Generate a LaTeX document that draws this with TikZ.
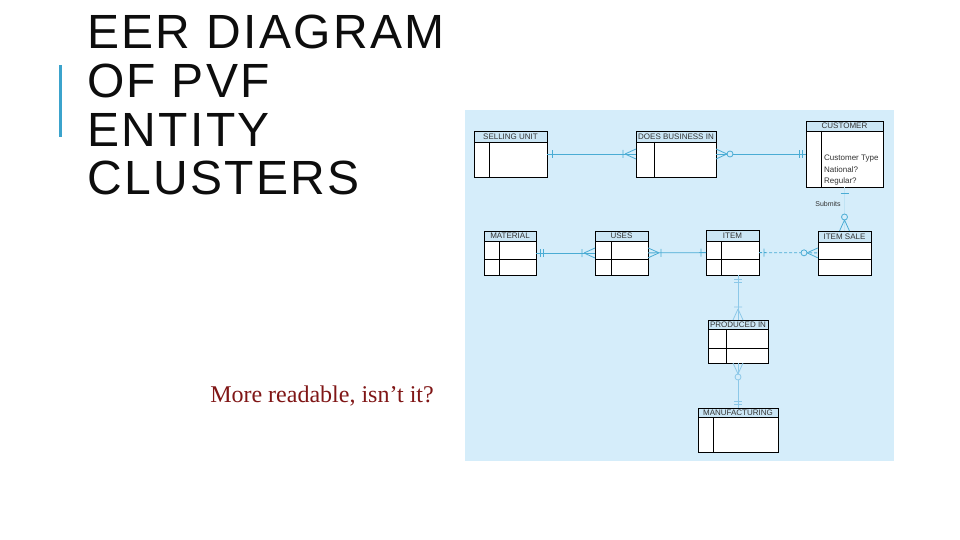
\documentclass[tikz,border=0pt]{standalone}
\usepackage{fontspec}
\setmainfont{Liberation Sans}
\newfontfamily\notefont{Liberation Serif}
\usetikzlibrary{calc, decorations.markings}

\definecolor{panel}{RGB}{213,237,250}
\definecolor{hdr}{RGB}{203,230,245}
\definecolor{lnk}{RGB}{74,172,212}
\definecolor{lnklight}{RGB}{140,200,232}
\definecolor{barblue}{RGB}{59,163,204}
\definecolor{notered}{RGB}{128,22,22}

% end marks: the box edge is at x=0, the line runs off to negative x
\newcommand{\mkone}{\draw[solid] (-5pt,-4pt) -- (-5pt,4pt);}
\newcommand{\mkonlyone}{\draw[solid] (-4pt,-4pt) -- (-4pt,4pt) (-7pt,-4pt) -- (-7pt,4pt);}
\newcommand{\mkonemany}{\draw[solid] (-11pt,0pt) -- (0pt,5pt) (-11pt,0pt) -- (0pt,-5pt) (-13pt,-4pt) -- (-13pt,4pt);}
\newcommand{\mkzeromany}{\draw[solid] (-11pt,0pt) -- (0pt,5pt) (-11pt,0pt) -- (0pt,-5pt);
  \draw[solid, fill=panel] (-14pt,0pt) circle (3pt);}

\tikzset{
  tailmark/.style={postaction={decorate, decoration={markings,
      mark=at position 0 with {\pgftransformxscale{-1}#1}}}},
  headmark/.style={postaction={decorate, decoration={markings,
      mark=at position 1 with {#1}}}},
  entity/.style={draw=black, fill=white, line width=0.9pt, inner sep=0pt, outer sep=0pt},
  hdrbox/.style={draw=black, fill=hdr, line width=0.9pt},
  inner/.style={draw=black, line width=0.9pt},
  headtext/.style={font=\fontsize{8}{9}\selectfont, text=black!80, inner sep=0pt},
  link/.style={color=lnk, line width=0.8pt},
}

\begin{document}
\begin{tikzpicture}[x=1pt, y=-1pt]
    \useasboundingbox[fill=white] (0,0) rectangle (960,540);

    % title side
    \fill[barblue] (59,65) rectangle (62,137);
    \node[anchor=north west, align=left, inner sep=0pt, text=black!95,
          font=\fontsize{48}{48.7}\selectfont\addfontfeatures{LetterSpace=5}] (title) at (87,15)
        {EER DIAGRAM\\OF PVF\\ENTITY\\CLUSTERS};
    \node[text=notered, inner sep=0pt, font=\notefont\fontsize{24}{28}\selectfont] (note) at (322,396)
        {More readable, isn’t it?};

    % diagram panel
    \fill[panel] (465,110) rectangle (894,461);

    % selling unit
    \node[entity, minimum width=73pt, minimum height=46pt] (su) at (510.5,154) {};
    \filldraw[hdrbox] (su.north west) rectangle ($(su.north east)+(0,11)$);
    \draw[inner] ($(su.north west)+(15,11)$) -- ($(su.south west)+(15,0)$);
    \node[headtext] (su-t) at ($(su.north)+(0,5.5)$) {SELLING UNIT};

    % does business in
    \node[entity, minimum width=80pt, minimum height=46pt] (dbi) at (676,154) {};
    \filldraw[hdrbox] (dbi.north west) rectangle ($(dbi.north east)+(0,11)$);
    \draw[inner] ($(dbi.north west)+(18,11)$) -- ($(dbi.south west)+(18,0)$);
    \node[headtext] (dbi-t) at ($(dbi.north)+(0,5.5)$) {DOES BUSINESS IN};

    % customer
    \node[entity, minimum width=77pt, minimum height=66pt] (cust) at (844.5,154) {};
    \filldraw[hdrbox] (cust.north west) rectangle ($(cust.north east)+(0,10)$);
    \draw[inner] ($(cust.north west)+(15,10)$) -- ($(cust.south west)+(15,0)$);
    \node[headtext] (cust-t) at ($(cust.north)+(0,5)$) {CUSTOMER};
    \node[headtext, anchor=north west, align=left, font=\fontsize{8}{11.5}\selectfont] (cust-a)
        at (824,155) {Customer Type\\National?\\Regular?};

    % material
    \node[entity, minimum width=52pt, minimum height=44pt] (mat) at (510,253) {};
    \filldraw[hdrbox] (mat.north west) rectangle ($(mat.north east)+(0,10)$);
    \draw[inner] ($(mat.north west)+(0,28)$) -- ($(mat.north east)+(0,28)$);
    \draw[inner] ($(mat.north west)+(15,10)$) -- ($(mat.south west)+(15,0)$);
    \node[headtext] (mat-t) at ($(mat.north)+(0,5)$) {MATERIAL};

    % uses
    \node[entity, minimum width=53pt, minimum height=44pt] (uses) at (621.5,253) {};
    \filldraw[hdrbox] (uses.north west) rectangle ($(uses.north east)+(0,10)$);
    \draw[inner] ($(uses.north west)+(0,28)$) -- ($(uses.north east)+(0,28)$);
    \draw[inner] ($(uses.north west)+(16,10)$) -- ($(uses.south west)+(16,0)$);
    \node[headtext] (uses-t) at ($(uses.north)+(0,5)$) {USES};

    % item
    \node[entity, minimum width=53pt, minimum height=45pt] (item) at (732.5,252.5) {};
    \filldraw[hdrbox] (item.north west) rectangle ($(item.north east)+(0,11)$);
    \draw[inner] ($(item.north west)+(0,29)$) -- ($(item.north east)+(0,29)$);
    \draw[inner] ($(item.north west)+(15,11)$) -- ($(item.south west)+(15,0)$);
    \node[headtext] (item-t) at ($(item.north)+(0,5.5)$) {ITEM};

    % item sale
    \node[entity, minimum width=53pt, minimum height=44pt] (isale) at (844.5,253) {};
    \filldraw[hdrbox] (isale.north west) rectangle ($(isale.north east)+(0,11)$);
    \draw[inner] ($(isale.north west)+(0,28)$) -- ($(isale.north east)+(0,28)$);
    \node[headtext] (isale-t) at ($(isale.north)+(0,5.5)$) {ITEM SALE};

    % produced in
    \node[entity, minimum width=60pt, minimum height=43pt] (pi) at (738,341.5) {};
    \filldraw[hdrbox] (pi.north west) rectangle ($(pi.north east)+(0,9)$);
    \draw[inner] ($(pi.north west)+(0,28)$) -- ($(pi.north east)+(0,28)$);
    \draw[inner] ($(pi.north west)+(18,9)$) -- ($(pi.south west)+(18,0)$);
    \node[headtext] (pi-t) at ($(pi.north)+(0,4.5)$) {PRODUCED IN};

    % manufacturing
    \node[entity, minimum width=80pt, minimum height=44pt] (manu) at (738,430) {};
    \filldraw[hdrbox] (manu.north west) rectangle ($(manu.north east)+(0,9)$);
    \draw[inner] ($(manu.north west)+(15,9)$) -- ($(manu.south west)+(15,0)$);
    \node[headtext] (manu-t) at ($(manu.north)+(0,4.5)$) {MANUFACTURING};

    % relationships
    \draw[link, tailmark=\mkone, headmark=\mkonemany] (su) -- (dbi);
    \draw[link, tailmark=\mkzeromany, headmark=\mkonlyone] (dbi) -- (cust);
    \draw[link, tailmark=\mkonlyone, headmark=\mkonemany] (mat) -- (uses);
    \draw[link, tailmark=\mkonemany, headmark=\mkone] (uses) -- (item);
    \draw[link, dashed, dash pattern=on 3pt off 2pt, tailmark=\mkone, headmark=\mkzeromany] (item) -- (isale);
    \draw[link, color=lnk!15!panel, tailmark={\draw[solid, lnk] (-6pt,-4pt) -- (-6pt,4pt);},
          headmark={\begin{scope}[lnk]\mkzeromany\end{scope}}] (cust) -- (isale);
    \node[font=\fontsize{7}{8}\selectfont, text=black!80, inner sep=0pt] (submits) at (828,204) {Submits};
    \draw[link, color=lnklight, tailmark=\mkonlyone, headmark=\mkonemany] (item.south -| pi.north) -- (pi.north);
    \draw[link, color=lnklight, tailmark=\mkzeromany, headmark=\mkonlyone] (pi) -- (manu);
\end{tikzpicture}
\end{document}
